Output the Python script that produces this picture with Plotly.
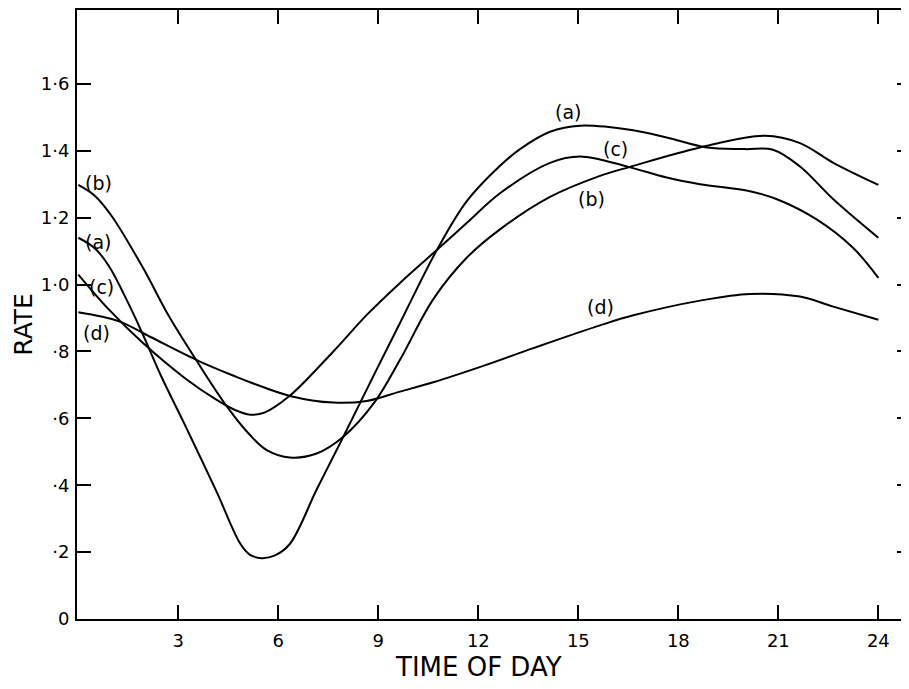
import plotly.graph_objects as go

# ---- data ----
a_x = [0, 0.5, 0.92, 1.52, 1.94, 2.49, 3.15, 4.15, 4.86, 5.15, 5.5, 5.9, 6.35, 7.15, 7.95, 8.97, 9.65,
       10.76, 11.66, 12.65, 13.25, 14.15, 15.05, 16.6, 17.65, 18.86, 20.0, 20.84, 21.65, 22.65, 24]
a_y = [1.14, 1.108, 1.055, 0.94, 0.85, 0.725, 0.59, 0.38, 0.225, 0.192, 0.182, 0.19, 0.225, 0.387, 0.545,
       0.75, 0.885, 1.104, 1.25, 1.355, 1.405, 1.457, 1.475, 1.462, 1.44, 1.41, 1.405, 1.403, 1.353,
       1.255, 1.14]

b_x = [0, 0.5, 1.0, 1.94, 2.72, 3.53, 4.46, 5.15, 5.65, 6.35, 7.15, 7.95, 8.9, 9.65, 10.64, 11.65,
       12.65, 14.15, 15.65, 16.55, 18.65, 20.6, 21.65, 22.65, 24]
b_y = [1.298, 1.265, 1.205, 1.05, 0.905, 0.775, 0.635, 0.55, 0.505, 0.483, 0.495, 0.545, 0.65, 0.775,
       0.955, 1.08, 1.165, 1.262, 1.325, 1.352, 1.41, 1.445, 1.423, 1.364, 1.298]

c_x = [0, 0.92, 1.94, 3.2, 4.15, 4.7, 5.15, 5.6, 6.35, 7.65, 8.66, 9.65, 10.76, 11.65, 12.65, 14.15,
       15.05, 16.5, 17.65, 18.65, 20.15, 20.96, 22.16, 23.24, 24]
c_y = [1.03, 0.925, 0.825, 0.72, 0.655, 0.625, 0.611, 0.618, 0.668, 0.80, 0.91, 1.005, 1.104, 1.184,
       1.273, 1.364, 1.383, 1.352, 1.32, 1.30, 1.279, 1.255, 1.194, 1.11, 1.02]

d_x = [0, 1.22, 2.15, 3.6, 4.74, 5.15, 6.35, 7.65, 8.65, 9.65, 10.65, 12.15, 13.65, 15.65, 16.65,
       18.65, 20.15, 21.65, 22.65, 24]
d_y = [0.917, 0.89, 0.844, 0.772, 0.724, 0.708, 0.667, 0.647, 0.652, 0.68, 0.708, 0.757, 0.81, 0.878,
       0.908, 0.952, 0.972, 0.964, 0.934, 0.895]

x_ticks = [3, 6, 9, 12, 15, 18, 21, 24]
x_tick_text = ["3", "6", "9", "12", "15", "18", "21", "24"]
y_ticks = [0, 0.2, 0.4, 0.6, 0.8, 1.0, 1.2, 1.4, 1.6]
y_tick_text = ["0", "·2", "·4", "·6", "·8", "1·0", "1·2", "1·4", "1·6"]

curve_labels = ["(b)", "(a)", "(c)", "(d)", "(a)", "(c)", "(b)", "(d)"]
label_x = [0.59, 0.59, 0.68, 0.53, 14.69, 16.1, 15.38, 15.65]
label_y = [1.304, 1.128, 0.994, 0.856, 1.516, 1.406, 1.256, 0.934]

FONT = "DejaVu Sans"
fig = go.Figure()
for xs, ys in [(a_x, a_y), (b_x, b_y), (c_x, c_y), (d_x, d_y)]:
    fig.add_trace(go.Scatter(x=xs, y=ys, mode="lines",
                             line=dict(color="black", width=2, shape="spline", smoothing=1.0),
                             showlegend=False, hoverinfo="skip"))
# invisible trace to carry right-hand ticks
fig.add_trace(go.Scatter(x=[0], y=[0], yaxis="y2", mode="markers",
                         marker=dict(opacity=0), showlegend=False, hoverinfo="skip"))

for t, x, y in zip(curve_labels, label_x, label_y):
    fig.add_annotation(x=x, y=y, text=t, showarrow=False,
                       font=dict(family=FONT, size=19, color="black"),
                       xanchor="center", yanchor="middle")

fig.add_annotation(x=12.0, xref="x", y=-0.0796, yref="paper", text="TIME OF DAY",
                   showarrow=False, font=dict(family=FONT, size=26, color="black"),
                   xanchor="center", yanchor="middle")
fig.add_annotation(x=-0.0637, xref="paper", y=0.88, yref="y", text="RATE", textangle=-90,
                   showarrow=False, font=dict(family=FONT, size=25, color="black"),
                   xanchor="center", yanchor="middle", borderpad=0)

fig.update_layout(
    width=901, height=681,
    margin=dict(l=69, r=0, t=2, b=70),
    paper_bgcolor="white", plot_bgcolor="white",
    xaxis=dict(range=[-0.04, 24.92], tickvals=x_ticks, ticktext=x_tick_text,
               ticks="inside", ticklen=14, tickwidth=1.5, tickcolor="black",
               showline=True, linecolor="black", linewidth=2, mirror="ticks",
               showgrid=False, zeroline=False, ticklabelstandoff=4,
               tickfont=dict(family=FONT, size=18, color="black")),
    yaxis=dict(range=[0, 1.821], tickvals=y_ticks, ticktext=y_tick_text,
               ticks="inside", ticklen=14, tickwidth=1.5, tickcolor="black",
               showline=True, linecolor="black", linewidth=2,
               showgrid=False, zeroline=False, ticklabelstandoff=2,
               tickfont=dict(family=FONT, size=18, color="black")),
    yaxis2=dict(range=[0, 1.821], overlaying="y", side="right", tickvals=y_ticks[1:],
                showticklabels=False, ticks="inside", ticklen=12, tickwidth=1.5,
                tickcolor="black", showline=False, showgrid=False, zeroline=False),
)

fig.write_html("out.html")
